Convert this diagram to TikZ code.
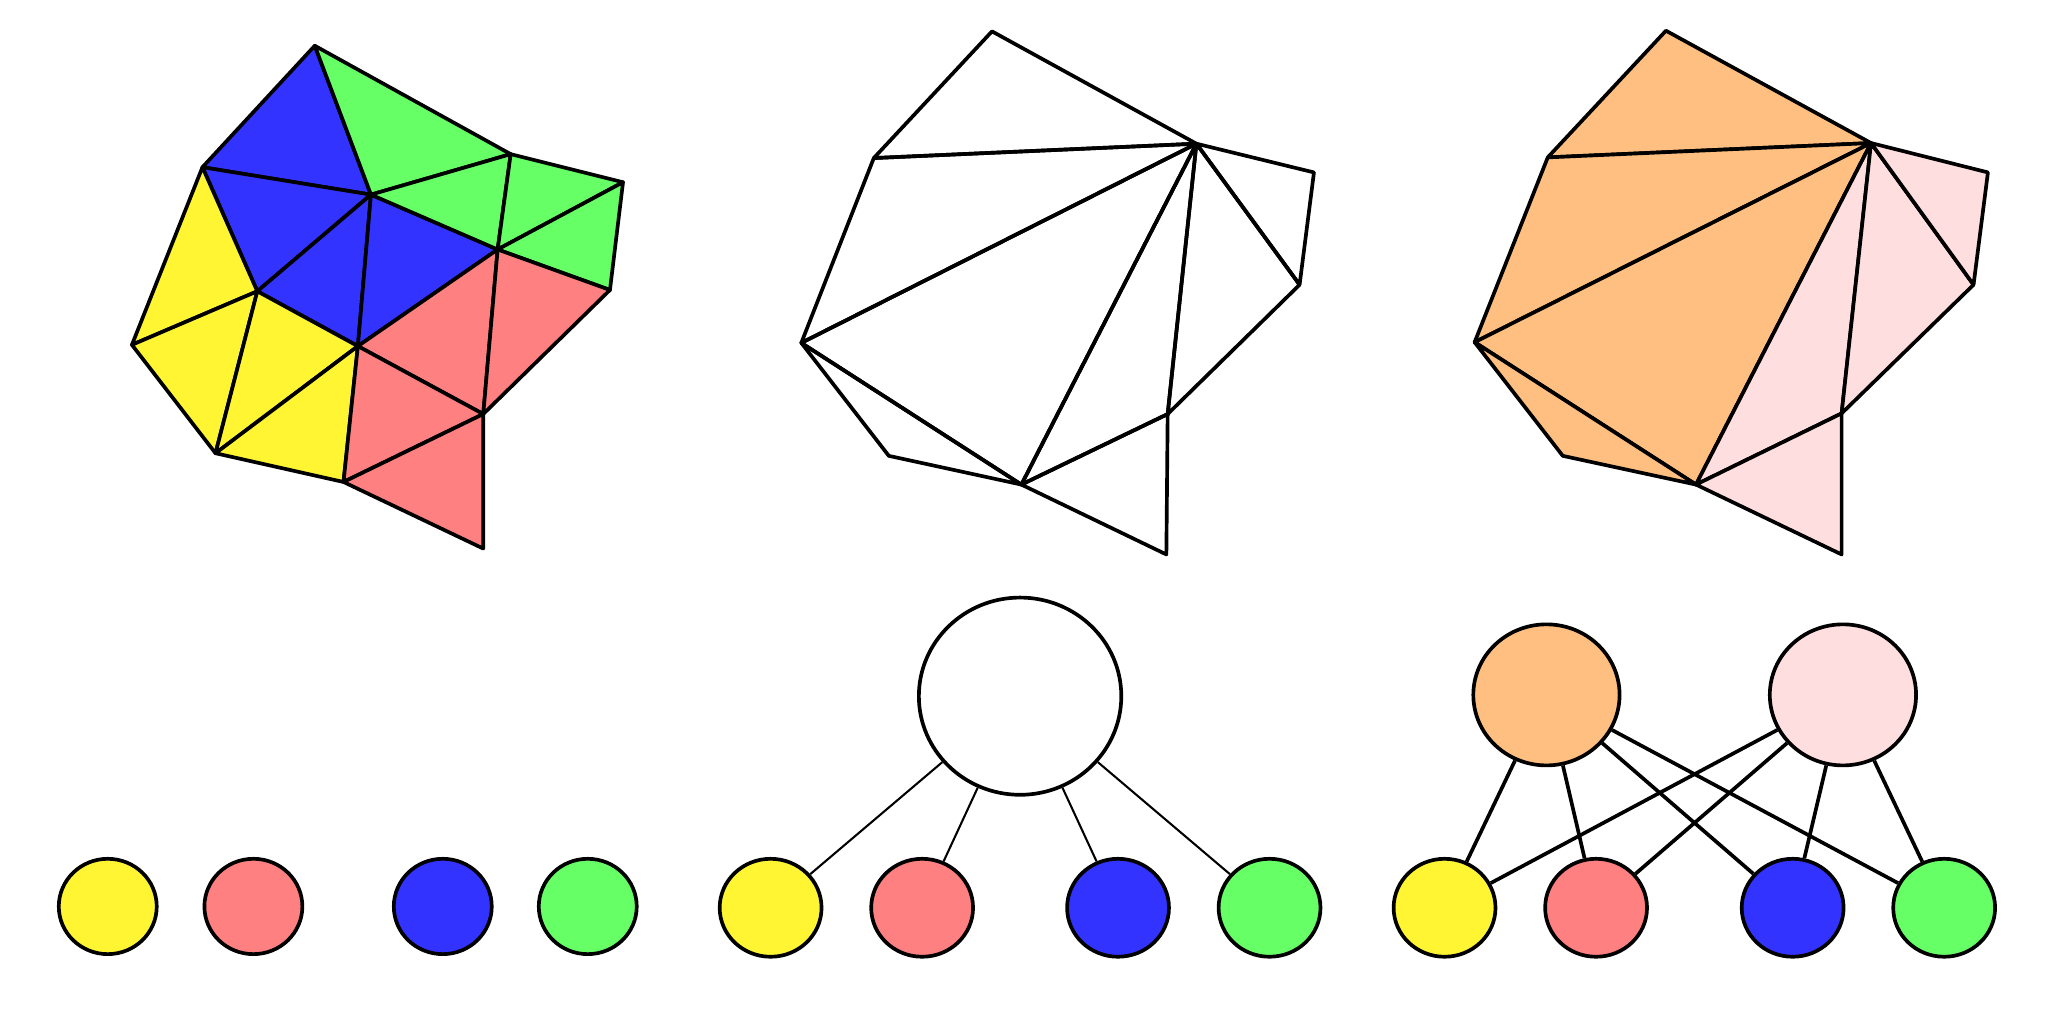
\documentclass[tikz,border=0pt]{standalone}
\usepackage{tikz}
\usetikzlibrary{shapes.geometric}
\definecolor{partyellow}{RGB}{255,245,51}
\definecolor{partred}{RGB}{255,128,128}
\definecolor{partblue}{RGB}{51,51,255}
\definecolor{partgreen}{RGB}{102,255,102}
\definecolor{aggorange}{RGB}{255,191,128}
\definecolor{aggpink}{RGB}{255,222,224}

\begin{document}
\begin{tikzpicture}[
    x=0.1mm, y=-0.1mm,
    tri/.style={draw, line width=0.8pt, line join=round},
    part/.style={draw, ellipse, line width=0.8pt, inner sep=0pt,
                 minimum width=7.5mm, minimum height=7.3mm},
    finepart/.style={part, minimum width=7.8mm, minimum height=7.5mm},
    agg/.style={part, minimum width=11.2mm, minimum height=10.8mm},
    coarse/.style={part, fill=white, minimum width=15.5mm, minimum height=15.1mm},
    link/.style={line width=0.45pt},
    agglink/.style={line width=0.8pt},
  ]
  \useasboundingbox (0,0) rectangle (1568,772);

  % fine mesh, coloured by part
  \coordinate (v1) at (241,35);
  \coordinate (v2) at (155,128);
  \coordinate (v3) at (284,149);
  \coordinate (v4) at (391,118);
  \coordinate (v5) at (477,139.5);
  \coordinate (v6) at (381,191);
  \coordinate (v7) at (197,223);
  \coordinate (v8) at (101,264);
  \coordinate (v9) at (274,265);
  \coordinate (v10) at (467,222);
  \coordinate (v11) at (370,317);
  \coordinate (v12) at (165,347);
  \coordinate (v13) at (263,369);
  \coordinate (v14) at (370,420);

  \filldraw[tri, fill=partblue] (v1) -- (v2) -- (v3) -- cycle;
  \filldraw[tri, fill=partblue] (v2) -- (v3) -- (v7) -- cycle;
  \filldraw[tri, fill=partblue] (v3) -- (v7) -- (v9) -- cycle;
  \filldraw[tri, fill=partblue] (v3) -- (v9) -- (v6) -- cycle;
  \filldraw[tri, fill=partgreen] (v1) -- (v3) -- (v4) -- cycle;
  \filldraw[tri, fill=partgreen] (v3) -- (v4) -- (v6) -- cycle;
  \filldraw[tri, fill=partgreen] (v4) -- (v6) -- (v5) -- cycle;
  \filldraw[tri, fill=partgreen] (v5) -- (v6) -- (v10) -- cycle;
  \filldraw[tri, fill=partyellow] (v2) -- (v7) -- (v8) -- cycle;
  \filldraw[tri, fill=partyellow] (v7) -- (v8) -- (v12) -- cycle;
  \filldraw[tri, fill=partyellow] (v7) -- (v9) -- (v12) -- cycle;
  \filldraw[tri, fill=partyellow] (v12) -- (v9) -- (v13) -- cycle;
  \filldraw[tri, fill=partred] (v9) -- (v6) -- (v11) -- cycle;
  \filldraw[tri, fill=partred] (v6) -- (v11) -- (v10) -- cycle;
  \filldraw[tri, fill=partred] (v9) -- (v11) -- (v13) -- cycle;
  \filldraw[tri, fill=partred] (v13) -- (v11) -- (v14) -- cycle;

  % coarse mesh
  \coordinate (m1) at (759.5,24);
  \coordinate (m2) at (669,121);
  \coordinate (m3) at (916,110);
  \coordinate (m4) at (1006,132);
  \coordinate (m5) at (995,218);
  \coordinate (m6) at (613.5,262.5);
  \coordinate (m7) at (894,317);
  \coordinate (m8) at (680.5,349);
  \coordinate (m9) at (782,371);
  \coordinate (m10) at (893,424.5);

  \draw[tri] (m1) -- (m2) -- (m3) -- cycle;
  \draw[tri] (m2) -- (m6) -- (m3) -- cycle;
  \draw[tri] (m6) -- (m9) -- (m3) -- cycle;
  \draw[tri] (m6) -- (m8) -- (m9) -- cycle;
  \draw[tri] (m9) -- (m7) -- (m3) -- cycle;
  \draw[tri] (m7) -- (m5) -- (m3) -- cycle;
  \draw[tri] (m5) -- (m4) -- (m3) -- cycle;
  \draw[tri] (m9) -- (m10) -- (m7) -- cycle;

  % coarse mesh, coloured by aggregate
  \coordinate (r1) at (1275.5,23.5);
  \coordinate (r2) at (1185,120.5);
  \coordinate (r3) at (1432.5,109.5);
  \coordinate (r4) at (1522,132);
  \coordinate (r5) at (1511,218);
  \coordinate (r6) at (1129,262);
  \coordinate (r7) at (1410,316.5);
  \coordinate (r8) at (1196.5,349);
  \coordinate (r9) at (1298.5,371);
  \coordinate (r10) at (1410,424.5);

  \filldraw[tri, fill=aggorange] (r1) -- (r2) -- (r3) -- cycle;
  \filldraw[tri, fill=aggorange] (r2) -- (r6) -- (r3) -- cycle;
  \filldraw[tri, fill=aggorange] (r6) -- (r9) -- (r3) -- cycle;
  \filldraw[tri, fill=aggorange] (r6) -- (r8) -- (r9) -- cycle;
  \filldraw[tri, fill=aggpink] (r9) -- (r7) -- (r3) -- cycle;
  \filldraw[tri, fill=aggpink] (r7) -- (r5) -- (r3) -- cycle;
  \filldraw[tri, fill=aggpink] (r5) -- (r4) -- (r3) -- cycle;
  \filldraw[tri, fill=aggpink] (r9) -- (r10) -- (r7) -- cycle;

  % parts on their own
  \node[part, fill=partyellow] (ly) at (82.5,694) {};
  \node[part, fill=partred] (lr) at (194,694) {};
  \node[part, fill=partblue] (lb) at (339,694) {};
  \node[part, fill=partgreen] (lg) at (450,694) {};

  % one coarse node
  \node[coarse] (cn) at (781,533) {};
  \node[finepart, fill=partyellow] (my) at (590,695) {};
  \node[finepart, fill=partred] (mr) at (706,695) {};
  \node[finepart, fill=partblue] (mb) at (856,695) {};
  \node[finepart, fill=partgreen] (mg) at (972,695) {};
  \foreach \p in {my, mr, mb, mg}
    \draw[link] (cn) -- (\p);

  % two aggregates
  \node[agg, fill=aggorange] (ago) at (1184,532) {};
  \node[agg, fill=aggpink] (agp) at (1411,532) {};
  \node[finepart, fill=partyellow] (ry) at (1106,695) {};
  \node[finepart, fill=partred] (rr) at (1222,695) {};
  \node[finepart, fill=partblue] (rb) at (1372.5,695) {};
  \node[finepart, fill=partgreen] (rg) at (1488.5,695) {};
  \foreach \a in {ago, agp}
    \foreach \p in {ry, rr, rb, rg}
      \draw[agglink] (\a) -- (\p);
\end{tikzpicture}
\end{document}
